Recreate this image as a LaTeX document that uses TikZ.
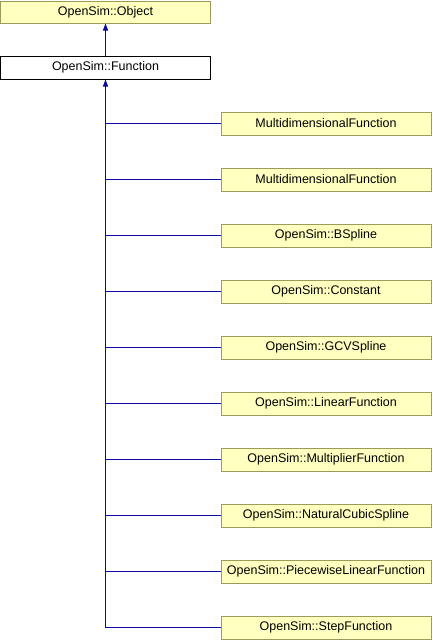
\documentclass[tikz,border=0pt]{standalone}
\usepackage{fontspec}
\setmainfont{Liberation Sans}
\usepackage{tikz}
\usetikzlibrary{arrows.meta}
\definecolor{boxfill}{HTML}{FFFFC0}
\definecolor{boxline}{HTML}{9C9C5A}
\definecolor{edge}{HTML}{0A0AA0}

\begin{document}
\begin{tikzpicture}[x=1pt,y=-1pt,
    cls/.style={draw=boxline, fill=boxfill, line width=1pt, inner sep=0pt,
      minimum width=210pt, minimum height=23pt, font=\fontsize{12.5}{14}\selectfont},
    cur/.style={cls, draw=black, fill=white},
    link/.style={draw=edge, line width=1pt},
    inh/.style={link, -{Triangle[length=7pt,width=5pt]}}]
      \useasboundingbox (0,0) rectangle (432,640);
      \node (obj) at (105.5,12) [cls, minimum height=22pt] {OpenSim::Object};
      \node (fn) at (105.5,67.5) [cur] {OpenSim::Function};
      \node (c1) at (326,123.5) [cls] {MultidimensionalFunction};
      \node (c2) at (326,179.5) [cls] {MultidimensionalFunction};
      \node (c3) at (326,235.5) [cls] {OpenSim::BSpline};
      \node (c4) at (326,291.5) [cls] {OpenSim::Constant};
      \node (c5) at (326,347.5) [cls] {OpenSim::GCVSpline};
      \node (c6) at (326,403.5) [cls] {OpenSim::LinearFunction};
      \node (c7) at (326,459.5) [cls] {OpenSim::MultiplierFunction};
      \node (c8) at (326,515.5) [cls] {OpenSim::NaturalCubicSpline};
      \node (c9) at (326,571.5) [cls] {OpenSim::PiecewiseLinearFunction};
      \node (c10) at (326,627.5) [cls] {OpenSim::StepFunction};
      \coordinate (trunk) at (105.5,627.5);
      \draw[inh] (fn) -- (obj);
      \draw[inh] (trunk) -- (fn);
      \draw[link]
      (c1.west -| trunk) -- (c1.west)
      (c2.west -| trunk) -- (c2.west)
      (c3.west -| trunk) -- (c3.west)
      (c4.west -| trunk) -- (c4.west)
      (c5.west -| trunk) -- (c5.west)
      (c6.west -| trunk) -- (c6.west)
      (c7.west -| trunk) -- (c7.west)
      (c8.west -| trunk) -- (c8.west)
      (c9.west -| trunk) -- (c9.west)
      (c10.west -| trunk) -- (c10.west);
    \end{tikzpicture}
\end{document}
